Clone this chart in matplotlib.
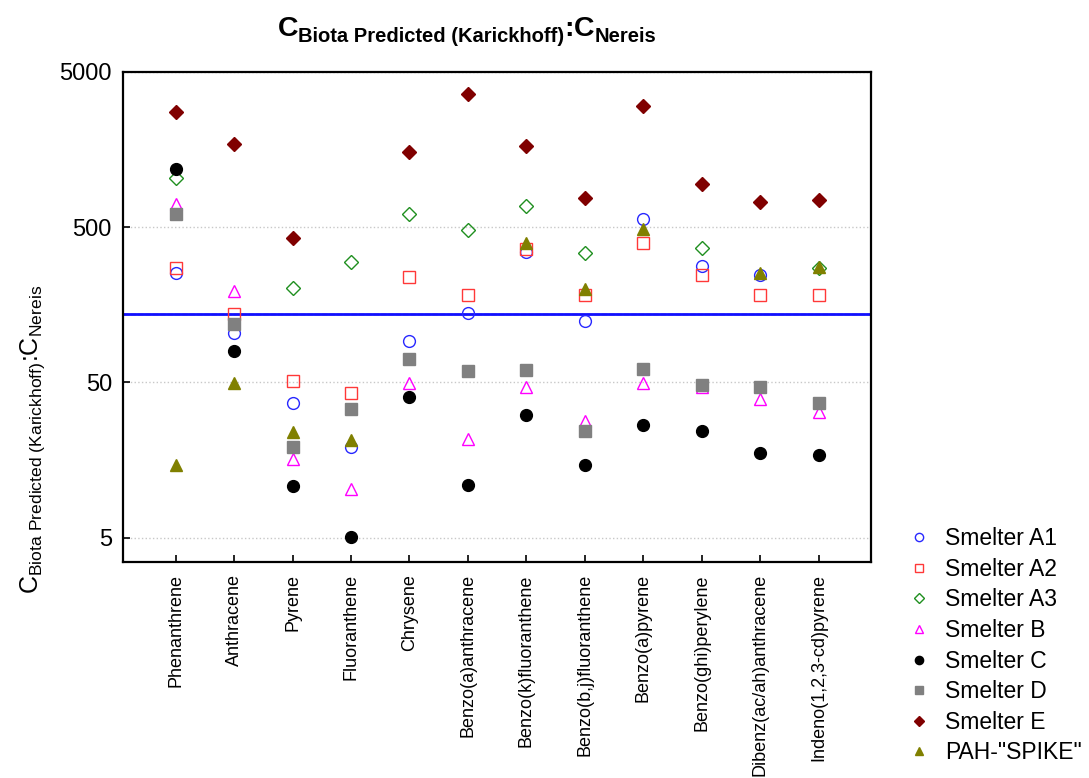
import numpy as np
import matplotlib
matplotlib.use('Agg')
import matplotlib.pyplot as plt

plt.rcParams['font.family'] = ['Liberation Sans', 'DejaVu Sans']
plt.rcParams['mathtext.fontset'] = 'custom'
plt.rcParams['mathtext.rm'] = 'Liberation Sans'
plt.rcParams['mathtext.it'] = 'Liberation Sans'
plt.rcParams['mathtext.default'] = 'regular'

nan = np.nan

# PAH compounds on the x axis
compounds = ['Phenanthrene', 'Anthracene', 'Pyrene', 'Fluoranthene', 'Chrysene',
             'Benzo(a)anthracene', 'Benzo(k)fluoranthene', 'Benzo(b,j)fluoranthene',
             'Benzo(a)pyrene', 'Benzo(ghi)perylene', 'Dibenz(ac/ah)anthracene',
             'Indeno(1,2,3-cd)pyrene']

# ratio values (nan = no point)
smelter_a1 = [253, 104, 37, 19.1, 93, 141, 348, 124.5, 568, 281, 246, nan]
smelter_a2 = [272, 138, 51.4, 43, 240, 184, 362, 183, 398, 246, 184, 184]
smelter_a3 = [1039, nan, 203, 300, 612, 480, 689, 340, nan, 369, nan, 272]
smelter_b = [703, 195, 16.1, 10.3, 49.9, 21.5, 47, 28.2, 49.9, 47, 39.3, 32.4]
smelter_c = [1193, 80, 10.7, 5.07, 40.5, 11, 31, 14.8, 26.7, 24.5, 17.6, 17.1]
smelter_d = [606, 119, 19.3, 33.9, 71, 59.6, 60, 24.3, 61.4, 48.2, 47, 37]
smelter_e = [2780, 1720, 427, nan, 1535, 3612, 1678, 776, 3023, 950, 728, 753]
pah_spike = [14.7, 49.4, 23.8, 21.3, nan, nan, 398, 199, 485, nan, 255, 279]

ref_line = 137
ref_line_red = 139
yticks = [5, 50, 500, 5000]

# title pieces: (text, fontsize, drop in px)
title_parts = [('C', 20.5, 0), ('Biota Predicted (Karickhoff)', 14.5, 6),
               (':', 20.5, 0), ('C', 20.5, 0), ('Nereis', 14.5, 6)]

# (label, values, marker, face colour, edge colour, size)
series = [
    ('Smelter A1', smelter_a1, 'o', 'none', '#2828ff', 8.5),
    ('Smelter A2', smelter_a2, 's', 'none', '#ff3838', 8),
    ('Smelter A3', smelter_a3, 'D', 'none', '#1f8f1f', 7),
    ('Smelter B', smelter_b, '^', 'none', '#ff00ff', 8.5),
    ('Smelter C', smelter_c, 'o', 'black', 'black', 8.5),
    ('Smelter D', smelter_d, 's', '#808080', '#808080', 8),
    ('Smelter E', smelter_e, 'D', '#800000', '#800000', 7),
    ('PAH-"SPIKE"', pah_spike, '^', '#808000', '#808000', 8.5),
]

fig = plt.figure(figsize=(10.89, 7.78), dpi=100)
ax = fig.add_axes([0.113, 0.278, 0.687, 0.6295])

x = np.arange(len(compounds))
ax.axhline(ref_line_red, color='#e03030', lw=1.0, ls='--', zorder=2)
ax.axhline(ref_line, color='#1010ff', lw=2, zorder=2)

for label, vals, mk, fc, ec, ms in series:
    ax.plot(x, vals, ls='none', marker=mk, mfc=fc, mec=ec, ms=ms, mew=1.0,
            label=label, zorder=3)

ax.set_yscale('log')
ax.set_ylim(3.5, 5000)
ax.set_xlim(-0.9, 11.9)
ax.set_yticks(yticks)
ax.set_yticklabels([str(t) for t in yticks], fontsize=17)
ax.minorticks_off()
ax.set_xticks(x)
ax.set_xticklabels(compounds, rotation=90, fontsize=13)
ax.tick_params(direction='in', length=5, width=1.2)
ax.tick_params(axis='x', pad=9)
ax.tick_params(axis='y', pad=8)
ax.yaxis.grid(True, ls=':', color='#c8c8c8', lw=1)
for s in ax.spines.values():
    s.set_linewidth(1.6)

# bold title built from pieces (main text + lowered subscripts)
W, H = fig.get_size_inches() * fig.dpi
renderer = fig.canvas.get_renderer()
texts = [fig.text(0, 0, t, fontsize=fs, fontweight='bold', va='baseline')
         for t, fs, dy in title_parts]
widths = [t.get_window_extent(renderer).width for t in texts]
x0 = 467 - sum(widths) / 2
base = 36
for t, (s, fs, dy), w in zip(texts, title_parts, widths):
    t.set_position((x0 / W, 1 - (base + dy) / H))
    x0 += w

fig.text(0.03, 0.435,
         r'$C_{Biota\ Predicted\ (Karickhoff)}$:$C_{Nereis}$',
         ha='center', va='center', rotation=90, fontsize=18)

fig.legend(loc='upper left', bbox_to_anchor=(0.827, 0.337), frameon=False,
           fontsize=16.5, markerscale=0.7, handlelength=0.6, handletextpad=0.85,
           labelspacing=0.33, borderpad=0)

fig.savefig('out.png', dpi=100)
